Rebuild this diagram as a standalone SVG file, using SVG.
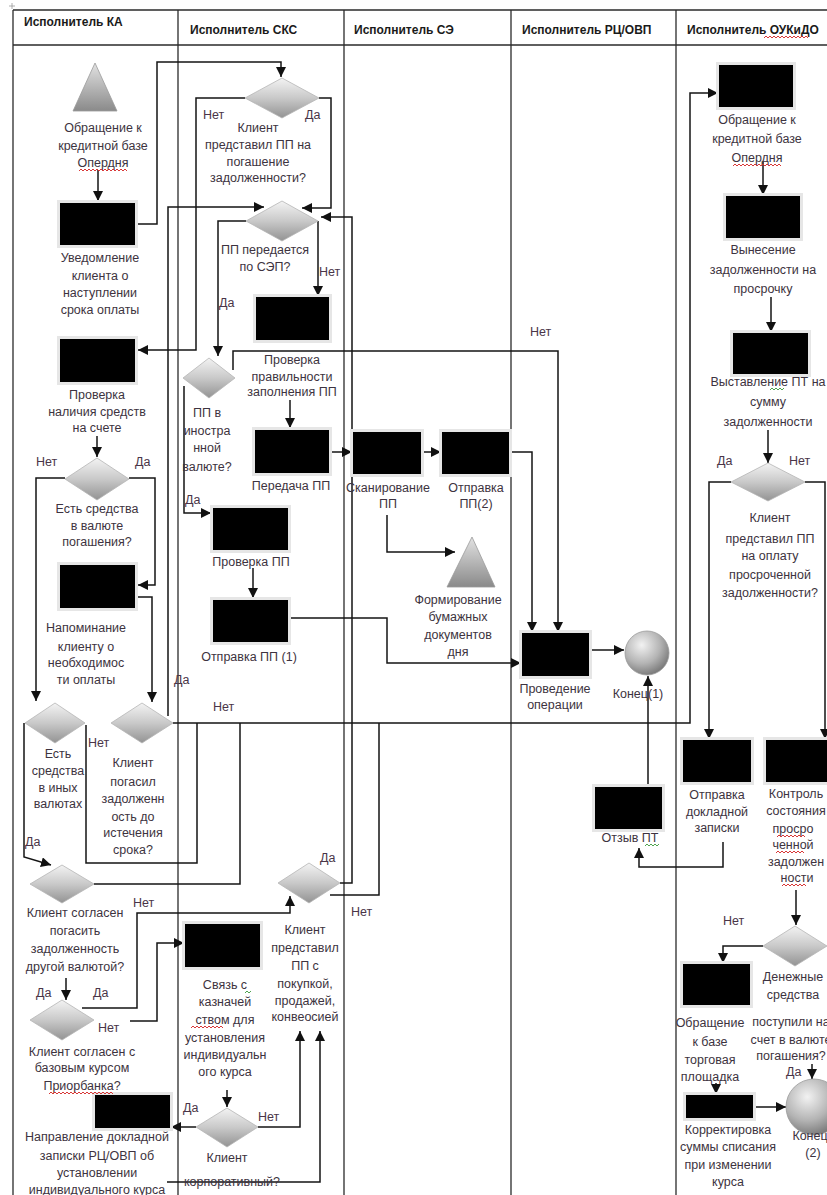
<svg xmlns="http://www.w3.org/2000/svg" width="827" height="1195" viewBox="0 0 827 1195">
<style>
.lane{stroke:#2b2b2b;stroke-width:1.3;fill:none}
.hd{font-family:"Liberation Sans",Arial,sans-serif;font-size:12px;font-weight:bold;fill:#1a1a1a}
.t{font-family:"Liberation Sans",Arial,sans-serif;font-size:12.5px;fill:#3d3340;text-anchor:middle}
.l{font-family:"Liberation Sans",Arial,sans-serif;font-size:12.5px;fill:#4a3548}
.box{fill:#000;stroke:#e6e6e6;stroke-width:6;paint-order:stroke}
.dia{fill:url(#gd);stroke:#b5b5b5;stroke-width:0.8}
.tri{fill:url(#gt);stroke:#9a9a9a;stroke-width:0.8}
.cir{fill:url(#gc);stroke:#9a9a9a;stroke-width:0.8}
.c{stroke:#151515;stroke-width:1.5;fill:none}
.a{marker-end:url(#ah)}
.sp{stroke:#d42020;stroke-width:0.9;fill:none}
.sg{stroke:#3a9a3a;stroke-width:0.9;fill:none}
</style>
<defs>
<linearGradient id="gd" x1="0" y1="0" x2="0" y2="1">
<stop offset="0" stop-color="#f3f3f3"/><stop offset="0.5" stop-color="#c9c9c9"/><stop offset="1" stop-color="#939393"/>
</linearGradient>
<linearGradient id="gt" x1="0" y1="0" x2="0" y2="1">
<stop offset="0" stop-color="#e2e2e2"/><stop offset="1" stop-color="#8a8a8a"/>
</linearGradient>
<radialGradient id="gc" cx="0.38" cy="0.32" r="0.7">
<stop offset="0" stop-color="#f2f2f2"/><stop offset="0.6" stop-color="#b4b4b4"/><stop offset="1" stop-color="#7a7a7a"/>
</radialGradient>
<marker id="ah" markerUnits="userSpaceOnUse" markerWidth="10" markerHeight="10" viewBox="0 0 10 10" refX="10" refY="5" orient="auto">
<path d="M0,0 L10,5 L0,10 z" fill="#111"/>
</marker>
</defs>
<rect width="827" height="1195" fill="#fff"/>

<g id="swimlanes">
<path class="lane" d="M13,10 H827 M13,45 H827 M13,10 V1195 M178,10 V1195 M344,10 V1195 M511,10 V1195 M676,10 V1195"/>
<path d="M12,3 V9 M9,6 H15" stroke="#999" stroke-width="0.8" fill="none"/>
<text class="hd" x="24" y="26">Исполнитель КА</text>
<text class="hd" x="190" y="34">Исполнитель СКС</text>
<text class="hd" x="354" y="34">Исполнитель СЭ</text>
<text class="hd" x="522" y="34">Исполнитель РЦ/ОВП</text>
<text class="hd" x="687" y="34">Исполнитель ОУКиДО</text>
</g>

<g id="connectors">
<path class="c a" d="M98,170 V201"/>
<path class="c a" d="M136,224 H157 V62 H281 V77"/>
<path class="c a" d="M245,98 H196 V350 H138"/>
<path class="c a" d="M319,98 H331 V208 H302"/>
<path class="c a" d="M168,716 V207 H264"/>
<path class="c a" d="M246,221 H218 V356"/>
<path class="c a" d="M318,221 V296"/>
<path class="c a" d="M233,370 V351 H558 V632"/>
<path class="c a" d="M184,386 V513 H211"/>
<path class="c a" d="M290,400 V428"/>
<path class="c a" d="M329,452 H352"/>
<path class="c a" d="M421,452 H441"/>
<path class="c a" d="M510,452 H532 V632"/>
<path class="c a" d="M387,515 V552 H455"/>
<path class="c a" d="M253,568 V598"/>
<path class="c a" d="M288,618 H387 V663 H521"/>
<path class="c a" d="M589,650 H624"/>
<path class="c a" d="M648,786 V676"/>
<path class="c a" d="M723,842 V867 H639 V848"/>
<path class="c a" d="M97,436 V457"/>
<path class="c a" d="M65,478 H36 V701"/>
<path class="c a" d="M129,478 H155 V585 H138"/>
<path class="c a" d="M135,597 H152 V702"/>
<path class="c a" d="M173,723 H690 V93 H718"/>
<path class="c" d="M86,725 V863 H197 V723"/>
<path class="c a" d="M24,723 V857 L51,865"/>
<path class="c" d="M94,884 H240 V723"/>
<path class="c a" d="M66,978 V1000"/>
<path class="c a" d="M82,1008 H137 V913 H290 V896"/>
<path class="c a" d="M130,1021 H157 V943 H184"/>
<path class="c a" d="M227,1090 V1107"/>
<path class="c a" d="M196,1127 H171"/>
<path class="c a" d="M258,1127 H300 V1031"/>
<path class="c a" d="M167,1182 H320 V1031"/>
<path class="c a" d="M340,883 H352 V217 H321"/>
<path class="c" d="M330,895 H379 V723"/>
<path class="c a" d="M763,162 V195"/>
<path class="c a" d="M771,297 V332"/>
<path class="c a" d="M768,430 V463"/>
<path class="c a" d="M731,482 H709 V739"/>
<path class="c a" d="M805,482 H825 V739"/>
<path class="c a" d="M796,890 V925"/>
<path class="c a" d="M763,946 H723 V963"/>
<path class="c a" d="M716,1083 V1094"/>
<path class="c a" d="M753,1107 H786"/>
<path class="c a" d="M812,1064 V1079"/>
</g>

<g id="connector-labels">
<text class="l" x="203" y="119">Нет</text>
<text class="l" x="305" y="119">Да</text>
<text class="l" x="219" y="307">Да</text>
<text class="l" x="319" y="276">Нет</text>
<text class="l" x="530" y="336">Нет</text>
<text class="l" x="185" y="504">Да</text>
<text class="l" x="36" y="466">Нет</text>
<text class="l" x="135" y="466">Да</text>
<text class="l" x="174" y="684">Да</text>
<text class="l" x="213" y="711">Нет</text>
<text class="l" x="88" y="747">Нет</text>
<text class="l" x="25" y="846">Да</text>
<text class="l" x="133" y="907">Нет</text>
<text class="l" x="36" y="997">Да</text>
<text class="l" x="93" y="997">Да</text>
<text class="l" x="98" y="1032">Нет</text>
<text class="l" x="183" y="1112">Да</text>
<text class="l" x="258" y="1121">Нет</text>
<text class="l" x="320" y="862">Да</text>
<text class="l" x="351" y="916">Нет</text>
<text class="l" x="717" y="465">Да</text>
<text class="l" x="789" y="465">Нет</text>
<text class="l" x="723" y="925">Нет</text>
<text class="l" x="786" y="1076">Да</text>
</g>

<!-- KA lane -->
<g id="n_ka_start">
<polygon class="tri" points="95,63 117,111 73,111"/>
<text class="t" x="103" y="132">Обращение к</text>
<text class="t" x="103" y="150">кредитной базе</text>
<text class="t" x="103" y="167">Опердня</text>
</g>
<g id="n_ka_notify">
<rect class="box" x="60" y="203" width="75" height="42"/>
<text class="t" x="100" y="262">Уведомление</text>
<text class="t" x="100" y="280">клиента о</text>
<text class="t" x="100" y="297">наступлении</text>
<text class="t" x="100" y="314">срока оплаты</text>
</g>
<g id="n_ka_check">
<rect class="box" x="60" y="339" width="75" height="43"/>
<text class="t" x="97" y="399">Проверка</text>
<text class="t" x="97" y="416">наличия средств</text>
<text class="t" x="97" y="432">на счете</text>
</g>
<g id="n_ka_d_funds">
<polygon class="dia" points="97,458 129,479 97,500 65,479"/>
<text class="t" x="97" y="513">Есть средства</text>
<text class="t" x="97" y="530">в валюте</text>
<text class="t" x="97" y="546">погашения?</text>
</g>
<g id="n_ka_remind">
<rect class="box" x="60" y="565" width="75" height="43"/>
<text class="t" x="86" y="632">Напоминание</text>
<text class="t" x="86" y="651">клиенту о</text>
<text class="t" x="86" y="667">необходимос</text>
<text class="t" x="86" y="684">ти оплаты</text>
</g>
<g id="n_ka_d_paid">
<polygon class="dia" points="142,703 173,723 142,743 111,723"/>
<text class="t" x="133" y="767">Клиент</text>
<text class="t" x="133" y="786">погасил</text>
<text class="t" x="133" y="803">задолженн</text>
<text class="t" x="133" y="821">ость до</text>
<text class="t" x="133" y="837">истечения</text>
<text class="t" x="133" y="854">срока?</text>
</g>
<g id="n_ka_d_other">
<polygon class="dia" points="55,703 85,723 55,743 25,723"/>
<text class="t" x="58" y="758">Есть</text>
<text class="t" x="58" y="775">средства</text>
<text class="t" x="58" y="792">в иных</text>
<text class="t" x="58" y="808">валютах</text>
</g>
<g id="n_ka_d_agree">
<polygon class="dia" points="62,865 94,884 62,903 30,884"/>
<text class="t" x="75" y="917">Клиент согласен</text>
<text class="t" x="75" y="935">погасить</text>
<text class="t" x="75" y="953">задолженность</text>
<text class="t" x="75" y="971">другой валютой?</text>
</g>
<g id="n_ka_d_rate">
<polygon class="dia" points="62,1000 94,1020 62,1040 30,1020"/>
<text class="t" x="82" y="1056">Клиент согласен с</text>
<text class="t" x="82" y="1072">базовым курсом</text>
<text class="t" x="82" y="1090">Приорбанка?</text>
</g>
<g id="n_ka_memo">
<rect class="box" x="95" y="1095" width="75" height="33"/>
<text class="t" x="97" y="1141">Направление докладной</text>
<text class="t" x="97" y="1160">записки РЦ/ОВП об</text>
<text class="t" x="97" y="1177">установлении</text>
<text class="t" x="97" y="1194">индивидуального курса</text>
</g>

<!-- SKS lane -->
<g id="n_sks_d_present">
<polygon class="dia" points="282,78 319,98 282,118 245,98"/>
<text class="t" x="258" y="132">Клиент</text>
<text class="t" x="258" y="149">представил ПП на</text>
<text class="t" x="258" y="166">погашение</text>
<text class="t" x="258" y="182">задолженности?</text>
</g>
<g id="n_sks_d_sep">
<polygon class="dia" points="282,201 318,221 282,241 246,221"/>
<text class="t" x="265" y="254">ПП передается</text>
<text class="t" x="265" y="271">по СЭП?</text>
</g>
<g id="n_sks_verify">
<rect class="box" x="256" y="297" width="73" height="43"/>
<text class="t" x="292" y="364">Проверка</text>
<text class="t" x="292" y="381">правильности</text>
<text class="t" x="292" y="396">заполнения ПП</text>
</g>
<g id="n_sks_d_fx">
<polygon class="dia" points="209,358 235,378 209,398 183,378"/>
<text class="t" x="207" y="417">ПП в</text>
<text class="t" x="207" y="435">иностра</text>
<text class="t" x="207" y="452">нной</text>
<text class="t" x="207" y="471">валюте?</text>
</g>
<g id="n_sks_transfer">
<rect class="box" x="255" y="430" width="74" height="43"/>
<text class="t" x="291" y="490">Передача ПП</text>
</g>
<g id="n_sks_check">
<rect class="box" x="213" y="508" width="75" height="42"/>
<text class="t" x="251" y="566">Проверка ПП</text>
</g>
<g id="n_sks_send1">
<rect class="box" x="213" y="600" width="75" height="42"/>
<text class="t" x="249" y="661">Отправка ПП (1)</text>
</g>
<g id="n_sks_d_conv">
<polygon class="dia" points="309,863 340,883 309,903 278,883"/>
<text class="t" x="305" y="934">Клиент</text>
<text class="t" x="305" y="952">представил</text>
<text class="t" x="305" y="970">ПП с</text>
<text class="t" x="305" y="988">покупкой,</text>
<text class="t" x="305" y="1005">продажей,</text>
<text class="t" x="305" y="1021">конвеосией</text>
</g>
<g id="n_sks_treasury">
<rect class="box" x="185" y="924" width="75" height="43"/>
<text class="t" x="225" y="989">Связь с</text>
<text class="t" x="225" y="1006">казначей</text>
<text class="t" x="225" y="1024">ством для</text>
<text class="t" x="225" y="1042">установления</text>
<text class="t" x="225" y="1059">индивидуальн</text>
<text class="t" x="225" y="1076">ого курса</text>
</g>
<g id="n_sks_d_corp">
<polygon class="dia" points="227,1108 258,1127 227,1147 196,1127"/>
<text class="t" x="227" y="1162">Клиент</text>
<text class="t" x="232" y="1186">корпоративный?</text>
</g>

<!-- SE lane -->
<g id="n_se_scan">
<rect class="box" x="353" y="432" width="68" height="42"/>
<text class="t" x="388" y="492">Сканирование</text>
<text class="t" x="388" y="508">ПП</text>
</g>
<g id="n_se_send2">
<rect class="box" x="442" y="432" width="67" height="42"/>
<text class="t" x="476" y="492">Отправка</text>
<text class="t" x="476" y="508">ПП(2)</text>
</g>
<g id="n_se_docs">
<polygon class="tri" points="472,537 495,587 447,587"/>
<text class="t" x="458" y="604">Формирование</text>
<text class="t" x="458" y="621">бумажных</text>
<text class="t" x="458" y="639">документов</text>
<text class="t" x="458" y="656">дня</text>
</g>

<!-- RC/OVP lane -->
<g id="n_rc_exec">
<rect class="box" x="522" y="633" width="67" height="43"/>
<text class="t" x="555" y="693">Проведение</text>
<text class="t" x="555" y="709">операции</text>
</g>
<g id="n_rc_end1">
<circle class="cir" cx="647" cy="653" r="22"/>
<text class="t" x="638" y="698">Конец(1)</text>
</g>
<g id="n_rc_recall">
<rect class="box" x="595" y="787" width="67" height="42"/>
<text class="t" x="630" y="842">Отзыв ПТ</text>
</g>

<!-- OUKiDO lane -->
<g id="n_o_query">
<rect class="box" x="719" y="65" width="74" height="42"/>
<text class="t" x="757" y="124">Обращение к</text>
<text class="t" x="757" y="143">кредитной базе</text>
<text class="t" x="757" y="162">Опердня</text>
</g>
<g id="n_o_overdue">
<rect class="box" x="726" y="196" width="74" height="42"/>
<text class="t" x="763" y="254">Вынесение</text>
<text class="t" x="763" y="274">задолженности на</text>
<text class="t" x="763" y="293">просрочку</text>
</g>
<g id="n_o_claim">
<rect class="box" x="733" y="333" width="75" height="41"/>
<text class="t" x="768" y="386">Выставление ПТ на</text>
<text class="t" x="768" y="406">сумму</text>
<text class="t" x="768" y="426">задолженности</text>
</g>
<g id="n_o_d_paid">
<polygon class="dia" points="768,463 805,482 768,501 731,482"/>
<text class="t" x="770" y="522">Клиент</text>
<text class="t" x="770" y="543">представил ПП</text>
<text class="t" x="770" y="560">на оплату</text>
<text class="t" x="770" y="579">просроченной</text>
<text class="t" x="770" y="597">задолженности?</text>
</g>
<g id="n_o_memo">
<rect class="box" x="683" y="740" width="68" height="42"/>
<text class="t" x="717" y="799">Отправка</text>
<text class="t" x="717" y="816">докладной</text>
<text class="t" x="717" y="832">записки</text>
</g>
<g id="n_o_control">
<rect class="box" x="766" y="740" width="70" height="42"/>
<text class="t" x="796" y="798">Контроль</text>
<text class="t" x="796" y="815">состояния</text>
<text class="t" x="793" y="833">просро</text>
<text class="t" x="793" y="849">ченной</text>
<text class="t" x="796" y="866">задолжен</text>
<text class="t" x="797" y="882">ности</text>
</g>
<g id="n_o_d_money">
<polygon class="dia" points="795,926 827,946 795,966 763,946"/>
<text class="t" x="793" y="981">Денежные</text>
<text class="t" x="793" y="999">средства</text>
<text class="t" x="791" y="1026">поступили на</text>
<text class="t" x="791" y="1044">счет в валюте</text>
<text class="t" x="791" y="1060">погашения?</text>
</g>
<g id="n_o_market">
<rect class="box" x="683" y="964" width="67" height="41"/>
<text class="t" x="710" y="1027">Обращение</text>
<text class="t" x="710" y="1046">к базе</text>
<text class="t" x="710" y="1064">торговая</text>
<text class="t" x="710" y="1081">площадка</text>
</g>
<g id="n_o_adjust">
<rect class="box" x="686" y="1095" width="67" height="23"/>
<text class="t" x="728" y="1134">Корректировка</text>
<text class="t" x="728" y="1151">суммы списания</text>
<text class="t" x="728" y="1169">при изменении</text>
<text class="t" x="728" y="1186">курса</text>
</g>
<g id="n_o_end2">
<circle class="cir" cx="814" cy="1107" r="28"/>
<text class="t" x="810" y="1140">Конец</text>
<text class="t" x="813" y="1157">(2)</text>
</g>

<g id="spellcheck-marks">
<path class="sp" d="M79,171 l2,-2 l2,2 l2,-2 l2,2 l2,-2 l2,2 l2,-2 l2,2 l2,-2 l2,2 l2,-2 l2,2 l2,-2 l2,2 l2,-2 l2,2 l2,-2 l2,2 l2,-2 l2,2 l2,-2 l2,2 l2,-2 l2,2"/>
<path class="sp" d="M733,166 l2,-2 l2,2 l2,-2 l2,2 l2,-2 l2,2 l2,-2 l2,2 l2,-2 l2,2 l2,-2 l2,2 l2,-2 l2,2 l2,-2 l2,2 l2,-2 l2,2 l2,-2 l2,2 l2,-2 l2,2 l2,-2 l2,2"/>
<path class="sp" d="M764,38 l2,-2 l2,2 l2,-2 l2,2 l2,-2 l2,2 l2,-2 l2,2 l2,-2 l2,2 l2,-2 l2,2 l2,-2 l2,2 l2,-2 l2,2 l2,-2 l2,2 l2,-2 l2,2 l2,-2 l2,2"/>
<path class="sp" d="M49,1094 l2,-2 l2,2 l2,-2 l2,2 l2,-2 l2,2 l2,-2 l2,2 l2,-2 l2,2 l2,-2 l2,2 l2,-2 l2,2 l2,-2 l2,2 l2,-2 l2,2 l2,-2 l2,2 l2,-2 l2,2 l2,-2 l2,2 l2,-2 l2,2 l2,-2 l2,2 l2,-2 l2,2 l2,-2 l2,2"/>
<path class="sp" d="M191,1028 l2,-2 l2,2 l2,-2 l2,2 l2,-2 l2,2 l2,-2 l2,2 l2,-2 l2,2 l2,-2 l2,2 l2,-2 l2,2 l2,-2 l2,2"/>
<path class="sp" d="M777,837 l2,-2 l2,2 l2,-2 l2,2 l2,-2 l2,2 l2,-2 l2,2 l2,-2 l2,2 l2,-2 l2,2 l2,-2 l2,2"/>
<path class="sp" d="M776,853 l2,-2 l2,2 l2,-2 l2,2 l2,-2 l2,2 l2,-2 l2,2 l2,-2 l2,2 l2,-2 l2,2 l2,-2 l2,2"/>
<path class="sp" d="M782,886 l2,-2 l2,2 l2,-2 l2,2 l2,-2 l2,2 l2,-2 l2,2 l2,-2 l2,2 l2,-2 l2,2"/>
<path class="sg" d="M770,390 l2,-2 l2,2 l2,-2 l2,2 l2,-2 l2,2 l2,-2"/>
<path class="sg" d="M645,846 l2,-2 l2,2 l2,-2 l2,2 l2,-2 l2,2 l2,-2"/>
<path class="sg" d="M245,993 l2,-2 l2,2 l2,-2"/>
</g>
</svg>
